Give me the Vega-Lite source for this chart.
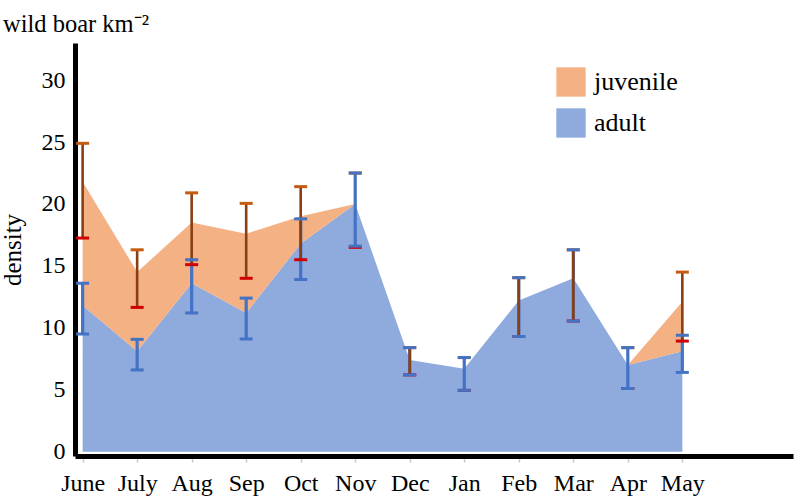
{
  "$schema": "https://vega.github.io/schema/vega-lite/v6.json",
  "autosize": "none",
  "width": 718,
  "height": 413,
  "padding": {"left": 75, "top": 43, "right": 5, "bottom": 41},
  "background": "white",
  "title": {
    "text": "wild boar km⁻²",
    "anchor": "start",
    "frame": "group",
    "dx": -72,
    "offset": 6,
    "font": "Liberation Serif",
    "fontSize": 24.5,
    "fontWeight": "normal",
    "color": "black"
  },
  "config": {
    "view": {"stroke": null},
    "font": "Liberation Serif"
  },
  "datasets": {
    "areas": [
      {"m": 0, "group": "adult", "lo": 0, "hi": 11.8},
      {"m": 1, "group": "adult", "lo": 0, "hi": 8.1},
      {"m": 2, "group": "adult", "lo": 0, "hi": 13.6},
      {"m": 3, "group": "adult", "lo": 0, "hi": 11.2},
      {"m": 4, "group": "adult", "lo": 0, "hi": 16.8},
      {"m": 5, "group": "adult", "lo": 0, "hi": 20.0},
      {"m": 6, "group": "adult", "lo": 0, "hi": 7.4},
      {"m": 7, "group": "adult", "lo": 0, "hi": 6.7},
      {"m": 8, "group": "adult", "lo": 0, "hi": 12.2},
      {"m": 9, "group": "adult", "lo": 0, "hi": 14.0},
      {"m": 10, "group": "adult", "lo": 0, "hi": 7.0},
      {"m": 11, "group": "adult", "lo": 0, "hi": 8.1},
      {"m": 0, "group": "juvenile", "lo": 11.8, "hi": 21.8},
      {"m": 1, "group": "juvenile", "lo": 8.1, "hi": 14.5},
      {"m": 2, "group": "juvenile", "lo": 13.6, "hi": 18.5},
      {"m": 3, "group": "juvenile", "lo": 11.2, "hi": 17.6},
      {"m": 4, "group": "juvenile", "lo": 16.8, "hi": 19.0},
      {"m": 5, "group": "juvenile", "lo": 20.0, "hi": 20.0},
      {"m": 6, "group": "juvenile", "lo": 7.4, "hi": 7.4},
      {"m": 7, "group": "juvenile", "lo": 6.7, "hi": 6.7},
      {"m": 8, "group": "juvenile", "lo": 12.2, "hi": 12.2},
      {"m": 9, "group": "juvenile", "lo": 14.0, "hi": 14.0},
      {"m": 10, "group": "juvenile", "lo": 7.0, "hi": 7.0},
      {"m": 11, "group": "juvenile", "lo": 8.1, "hi": 12.1}
    ],
    "juvbars": [
      {"m": 0, "lo": 17.25, "hi": 24.9},
      {"m": 1, "lo": 11.65, "hi": 16.3},
      {"m": 2, "lo": 15.1, "hi": 20.9},
      {"m": 3, "lo": 14.0, "hi": 20.05},
      {"m": 4, "lo": 15.5, "hi": 21.4},
      {"m": 5, "lo": 16.5, "hi": 22.5},
      {"m": 6, "lo": 6.2, "hi": 8.4},
      {"m": 7, "lo": 4.95, "hi": 7.6},
      {"m": 8, "lo": 9.3, "hi": 14.05},
      {"m": 9, "lo": 10.55, "hi": 16.3},
      {"m": 10, "lo": 5.1, "hi": 8.4},
      {"m": 11, "lo": 8.93, "hi": 14.5}
    ],
    "adbars": [
      {"m": 0, "lo": 9.5, "hi": 13.6},
      {"m": 1, "lo": 6.6, "hi": 9.07},
      {"m": 2, "lo": 11.2, "hi": 15.5},
      {"m": 3, "lo": 9.1, "hi": 12.4},
      {"m": 4, "lo": 13.9, "hi": 18.8},
      {"m": 5, "lo": 16.6, "hi": 22.5},
      {"m": 6, "lo": 6.2, "hi": 8.4},
      {"m": 7, "lo": 4.95, "hi": 7.6},
      {"m": 8, "lo": 9.3, "hi": 14.05},
      {"m": 9, "lo": 10.55, "hi": 16.3},
      {"m": 10, "lo": 5.1, "hi": 8.4},
      {"m": 11, "lo": 6.4, "hi": 9.4}
    ]
  },
  "encoding": {
    "x": {
      "field": "m",
      "type": "quantitative",
      "scale": {"domain": [-0.14, 13.03], "nice": false, "zero": false},
      "axis": {
        "title": null,
        "values": [0, 1, 2, 3, 4, 5, 6, 7, 8, 9, 10, 11],
        "labelExpr": "['June','July','Aug','Sep','Oct','Nov','Dec','Jan','Feb','Mar','Apr','May'][datum.value]",
        "labelFont": "Liberation Serif",
        "labelFontSize": 24,
        "labelColor": "black",
        "labelPadding": 9,
        "labelFlush": false,
        "labelOverlap": false,
        "domainColor": "black",
        "domainWidth": 5,
        "ticks": true,
        "tickColor": "#c8c8c8",
        "tickSize": 6,
        "tickWidth": 1.5,
        "grid": false
      }
    }
  },
  "layer": [
    {
      "data": {"name": "areas"},
      "mark": {"type": "area", "opacity": 1, "interpolate": "linear"},
      "encoding": {
        "y": {
          "field": "hi",
          "type": "quantitative",
          "stack": null,
          "scale": {"domain": [-0.35, 33], "nice": false, "zero": false},
          "axis": {
            "title": "density",
            "titleFont": "Liberation Serif",
            "titleFontSize": 25,
            "titleFontWeight": "normal",
            "titleColor": "black",
            "titlePadding": 16,
            "values": [0, 5, 10, 15, 20, 25, 30],
            "labelFont": "Liberation Serif",
            "labelFontSize": 24,
            "labelColor": "black",
            "labelPadding": 10,
            "ticks": false,
            "domainColor": "black",
            "domainWidth": 5,
            "grid": false
          }
        },
        "y2": {"field": "lo"},
        "color": {
          "field": "group",
          "type": "nominal",
          "scale": {"domain": ["juvenile", "adult"], "range": ["#F4B183", "#8FAADC"]},
          "legend": {
            "title": null,
            "orient": "none",
            "legendX": 481,
            "legendY": 24,
            "symbolType": "square",
            "symbolSize": 860,
            "symbolStrokeWidth": 0,
            "symbolOpacity": 1,
            "labelFont": "Liberation Serif",
            "labelFontSize": 26,
            "labelColor": "black",
            "labelOffset": 8,
            "rowPadding": 11,
            "padding": 0
          }
        }
      }
    },
    {
      "data": {"name": "adbars"},
      "mark": {"type": "rule", "color": "#4472C4", "strokeWidth": 3.2},
      "encoding": {
        "y": {"field": "lo", "type": "quantitative"},
        "y2": {"field": "hi"}
      }
    },
    {
      "data": {"name": "juvbars"},
      "transform": [{"filter": {"field": "m", "oneOf": [0, 1, 2, 3, 4, 6, 8, 9, 11]}}],
      "mark": {"type": "rule", "color": "#8B3E12", "strokeWidth": 2.6},
      "encoding": {
        "y": {"field": "lo", "type": "quantitative"},
        "y2": {"field": "hi"}
      }
    },
    {
      "data": {"name": "juvbars"},
      "mark": {"type": "tick", "orient": "horizontal", "color": "#C55A11", "size": 13, "thickness": 3, "opacity": 1},
      "encoding": {
        "y": {"field": "hi", "type": "quantitative"}
      }
    },
    {
      "data": {"name": "juvbars"},
      "mark": {"type": "tick", "orient": "horizontal", "color": "#D00000", "size": 13, "thickness": 3, "opacity": 1},
      "encoding": {
        "y": {"field": "lo", "type": "quantitative"}
      }
    },
    {
      "data": {"name": "adbars"},
      "mark": {"type": "tick", "orient": "horizontal", "color": "#4472C4", "size": 13, "thickness": 3, "opacity": 1},
      "encoding": {
        "y": {"field": "hi", "type": "quantitative"}
      }
    },
    {
      "data": {"name": "adbars"},
      "mark": {"type": "tick", "orient": "horizontal", "color": "#4472C4", "size": 13, "thickness": 3, "opacity": 1},
      "encoding": {
        "y": {"field": "lo", "type": "quantitative"}
      }
    }
  ]
}
